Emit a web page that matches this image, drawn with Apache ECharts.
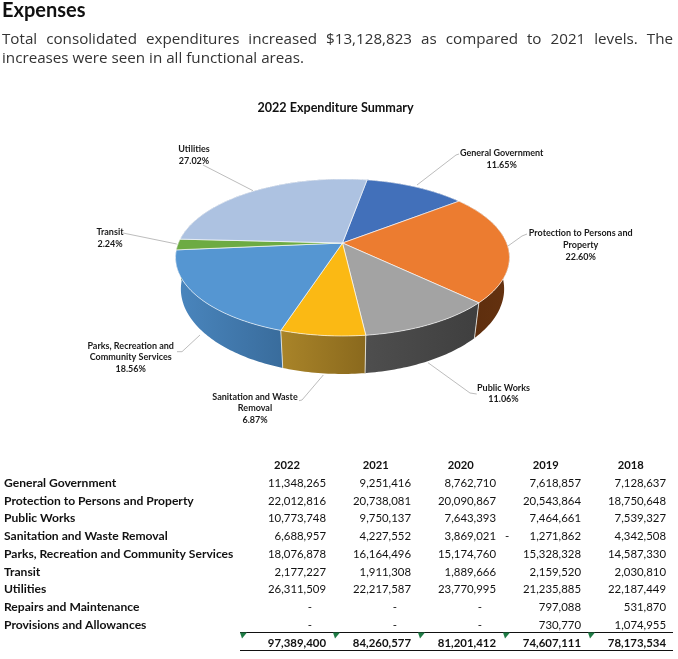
<!DOCTYPE html>
<html><head><meta charset="utf-8">
<style>html,body{margin:0;padding:0;background:#fff}#c{width:678px;height:659px}</style>
<script src="https://cdn.jsdelivr.net/npm/echarts@6/dist/echarts.min.js"></script>
</head><body><div id="c"></div>
<script>
// ---- data ----
const categories = ['General Government','Protection to Persons and Property','Public Works','Sanitation and Waste Removal','Parks, Recreation and Community Services','Transit','Utilities','Repairs and Maintenance','Provisions and Allowances'];
const years = ['2022','2021','2020','2019','2018'];
const v2022 = [11348265,22012816,10773748,6688957,18076878,2177227,26311509,null,null];
const v2021 = [9251416,20738081,9750137,4227552,16164496,1911308,22217587,null,null];
const v2020 = [8762710,20090867,7643393,3869021,15174760,1889666,23770995,null,null];
const v2019 = [7618857,20543864,7464661,-1271862,15328328,2159520,21235885,797088,730770];
const v2018 = [7128637,18750648,7539327,4342508,14587330,2030810,22187449,531870,1074955];
const totals = [97389400,84260577,81201412,74607111,78173534];
const pieLabels = [['General Government'],['Protection to Persons and','Property'],['Public Works'],['Sanitation and Waste','Removal'],['Parks, Recreation and','Community Services'],['Transit'],['Utilities']];
const headingText = 'Expenses';
const bodyLine1 = 'Total consolidated expenditures increased $13,128,823 as compared to 2021 levels. The';
const bodyLine2 = 'increases were seen in all functional areas.';
const chartTitle = '2022 Expenditure Summary';

// ---- styles / layout ----
const topColors = ['#4270BA','#EC7C30','#A3A3A3','#FBB914','#5596D2','#6DAB43','#ADC2E1'];
const wallColors = [['#2A4374','#2A4374'],['#5A2C0C','#653210'],['#4E4E4E','#3F3F3F'],['#A98429','#8A691D'],['#4A86BE','#396C9C'],['#41692A','#41692A'],['#6A7F9E','#6A7F9E']];
const cx=342.5, cy=243, R=164.1, Ry=75.8, P=0.1847, startDeg=10.2;
const ellCy=257.5, sx=0.968, sy=85/78.5, botCy=289;
const labelPos = [[501.7,153],[580.7,233.3],[503.5,387.7],[255,396.7],[130.7,345.7],[110,232],[194,149]];
const leaders = [
 [[459,154],[456,155],[417,185]],
 [[527,234],[522,236],[508,246]],
 [[476.7,394],[470,393],[428,362.7]],
 [[299,400.7],[302,400],[323.3,375]],
 [[177,351.7],[182,351.7],[200,335]],
 [[123,233],[176.7,244]],
 [[203,165],[253,190.7]]
];
const LABEL_FONT='bold 9px Lato';
const TABLE_FONT='11.4px Lato', TABLE_BOLD='bold 11.4px Lato', CATEGORY_FONT='bold 12.1px Lato', YEAR_FONT='bold 11.2px Lato';
const colRight=[326,411,496,581,666], colHead=[287,375.7,460.7,545.7,630.7], rowY=[483,501,518.3,536.3,554.3,572.3,589.3,607.3,625.3];
const triX=[240,333,418,503,588];

function topPt(deg){const t=deg*Math.PI/180,u=Math.sin(t),v=-Math.cos(t),d=1-P*v;return [cx+R*u/d,cy+Ry*v/d];}
function botPt(deg){const p=topPt(deg);return [cx+(p[0]-cx)*sx,botCy+(p[1]-ellCy)*sy];}
const pieValues=v2022.filter(v=>v!=null);
const pieSum=pieValues.reduce((a,b)=>a+b,0);
const fmt=n=>Math.abs(n).toString().replace(/\B(?=(\d{3})+(?!\d))/g,',');

function renderItem(params,api){
  const i=params.dataIndex, val=api.value(1);
  let before=0; for(let k=0;k<i;k++)before+=pieValues[k];
  const a0=startDeg+before/pieSum*360, a1=a0+val/pieSum*360;
  const n=Math.max(2,Math.ceil(a1-a0)), top=[], bot=[];
  for(let k=0;k<=n;k++){const d=a0+(a1-a0)*k/n;top.push(topPt(d));bot.push(botPt(d));}
  const children=[];
  children.push({type:'polygon',z2:1,shape:{points:top.concat(bot.slice().reverse())},silent:true,
    style:{fill:new echarts.graphic.LinearGradient(0,0,1,0,[{offset:0,color:wallColors[i][0]},{offset:1,color:wallColors[i][1]}]),stroke:null}});
  const nd=((a0%360)+360)%360;
  if(nd>100&&nd<260){children.push({type:'line',z2:1.5,shape:{x1:top[0][0],y1:top[0][1],x2:bot[0][0],y2:bot[0][1]},style:{stroke:'rgba(240,240,235,0.8)',lineWidth:1}});}
  children.push({type:'polygon',z2:2,shape:{points:[[cx,cy]].concat(top)},
    style:{fill:topColors[i],stroke:'rgba(255,255,255,0.7)',lineWidth:0.9,lineJoin:'round'}});
  children.push({type:'polyline',z2:0,shape:{points:leaders[i]},style:{fill:null,stroke:'#BDBDBD',lineWidth:1}});
  const lines=pieLabels[i].concat([(val/pieSum*100).toFixed(2)+'%']);
  lines.forEach((s,k)=>children.push({type:'text',z2:3,style:{text:s,x:labelPos[i][0],y:labelPos[i][1]+k*11.7,font:LABEL_FONT,fill:'#1a1a1a',align:'center',verticalAlign:'middle',textAlign:'center',textVerticalAlign:'middle'}}));
  return {type:'group',children};
}

// ---- page text + table ----
const measure=document.createElement('canvas').getContext('2d');
const BODY_FONT='15.2px "Open Sans"';
const g=[];
function txt(s,x,y,font,align,fill){g.push({type:'text',silent:true,style:{text:s,x,y,font,fill:fill||'#111',align:align||'left',verticalAlign:'middle',textAlign:align||'left',textVerticalAlign:'middle'}});}
txt(headingText,2,11,'bold 20px Lato','left','#111');
measure.font=BODY_FONT;
const words=bodyLine1.split(' ');
const wTotal=words.reduce((a,w)=>a+measure.measureText(w).width,0);
const gap=(673-2-wTotal)/(words.length-1);
let wx=2; words.forEach(w=>{txt(w,wx,40,BODY_FONT,'left','#333');wx+=measure.measureText(w).width+gap;});
txt(bodyLine2,2,59,BODY_FONT,'left','#333');

const cols=[v2022,v2021,v2020,v2019,v2018];
years.forEach((y,i)=>txt(y,colHead[i],465,YEAR_FONT,'center'));
categories.forEach((c,r)=>{
  txt(c,4,rowY[r],CATEGORY_FONT,'left');
  cols.forEach((col,i)=>{
    const v=col[r];
    if(v==null){txt('-',colRight[i]-14,rowY[r],TABLE_FONT,'right');return;}
    txt(fmt(v),colRight[i],rowY[r],TABLE_FONT,'right');
    if(v<0)txt('-',colRight[i]-76,rowY[r],TABLE_FONT,'left');
  });
});
totals.forEach((t,i)=>txt(fmt(t),colRight[i],643,TABLE_BOLD,'right'));
g.push({type:'line',silent:true,shape:{x1:240,y1:632.5,x2:673,y2:632.5},style:{stroke:'#111',lineWidth:1}});
g.push({type:'line',silent:true,shape:{x1:240,y1:650.5,x2:673,y2:650.5},style:{stroke:'#111',lineWidth:1}});
triX.forEach(x=>g.push({type:'polygon',silent:true,shape:{points:[[x,632.5],[x+7,632.5],[x+2,638.5]]},style:{fill:'#1E7B45'}}));

const chart=echarts.init(document.getElementById('c'),null,{renderer:'canvas'});
chart.setOption({
  animation:false,backgroundColor:'#fff',
  title:{text:chartTitle,left:330.5,textAlign:'center',top:96.5,textStyle:{fontFamily:'Lato',fontWeight:'bold',fontSize:12.6,color:'#111'}},
  tooltip:{show:false},
  graphic:{elements:g},
  series:[{type:'custom',coordinateSystem:'none',renderItem,
    encode:{value:1,itemName:0},
    data:pieValues.map((v,i)=>[categories[i],v])}]
});
</script></body></html>
